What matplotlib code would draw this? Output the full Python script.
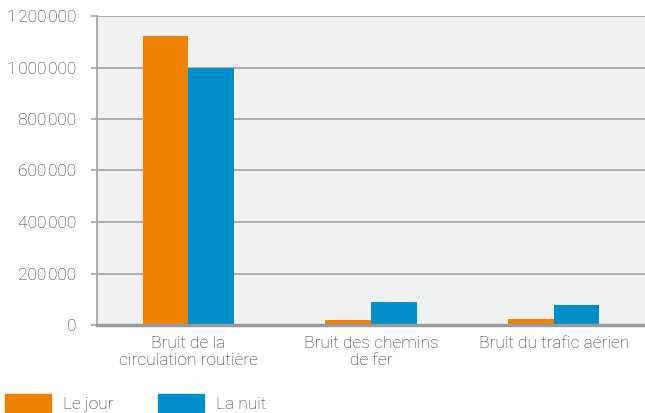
import matplotlib
matplotlib.use("Agg")
import matplotlib.pyplot as plt
from matplotlib.patches import Patch
from matplotlib.ticker import FuncFormatter
import numpy as np

categories = ["Bruit de la\ncirculation routière", "Bruit des chemins\nde fer", "Bruit du trafic aérien"]
jour = [1122000, 19000, 23000]
nuit = [1000000, 89000, 78000]
series_labels = ["Le jour", "La nuit"]
yticks = [0, 200000, 400000, 600000, 800000, 1000000, 1200000]

ORANGE = "#ee8100"
BLUE = "#008fcc"
TEXT = "#2e2e2e"
GRID = "#a6a6a6"
FS = 12.5

plt.rcParams["font.family"] = ["Roboto", "DejaVu Sans"]
plt.rcParams["font.weight"] = "light"

fig = plt.figure(figsize=(6.45, 4.13), dpi=100)
ax = fig.add_axes([97 / 645, 88 / 413, 548 / 645, 309 / 413])
ax.set_facecolor("#eff0f0")

x = np.arange(len(categories))
w = 0.25
ax.bar(x - w / 2, jour, width=w, color=ORANGE, zorder=3)
ax.bar(x + w / 2, nuit, width=w, color=BLUE, zorder=3)

ax.set_xlim(-0.5, len(categories) - 0.5)
ax.set_ylim(0, 1200000)
ax.set_yticks(yticks)


def fmt(v, pos):
    return f"{int(v):,}".replace(",", "\u200a")


ax.yaxis.set_major_formatter(FuncFormatter(fmt))
ax.set_xticks(x)
ax.set_xticklabels(categories, fontsize=FS, color=TEXT, linespacing=1.15, fontweight="light")
ax.tick_params(axis="x", length=0, pad=8)
ax.tick_params(axis="y", length=4, width=1.2, color=GRID, labelsize=FS, labelcolor=TEXT, pad=11)
for lab in ax.get_yticklabels():
    lab.set_fontweight("light")

ax.grid(axis="y", color=GRID, linewidth=1.3, zorder=1)
ax.set_axisbelow(True)
for side in ["top", "right"]:
    ax.spines[side].set_visible(False)
ax.spines["left"].set_color(GRID)
ax.spines["left"].set_linewidth(1.3)
ax.spines["bottom"].set_color("#999999")
ax.spines["bottom"].set_linewidth(2.5)
ax.spines["bottom"].set_zorder(4)

handles = [Patch(color=ORANGE), Patch(color=BLUE)]
leg = fig.legend(handles, series_labels, loc="lower left", bbox_to_anchor=(5 / 645, 0.002),
                 ncol=2, frameon=False, fontsize=FS, handlelength=2.65, handleheight=1.2,
                 handletextpad=0.69, columnspacing=2.55, borderaxespad=0, borderpad=0)
for t in leg.get_texts():
    t.set_color(TEXT)
    t.set_fontweight("light")

fig.savefig("out.png", dpi=100)
